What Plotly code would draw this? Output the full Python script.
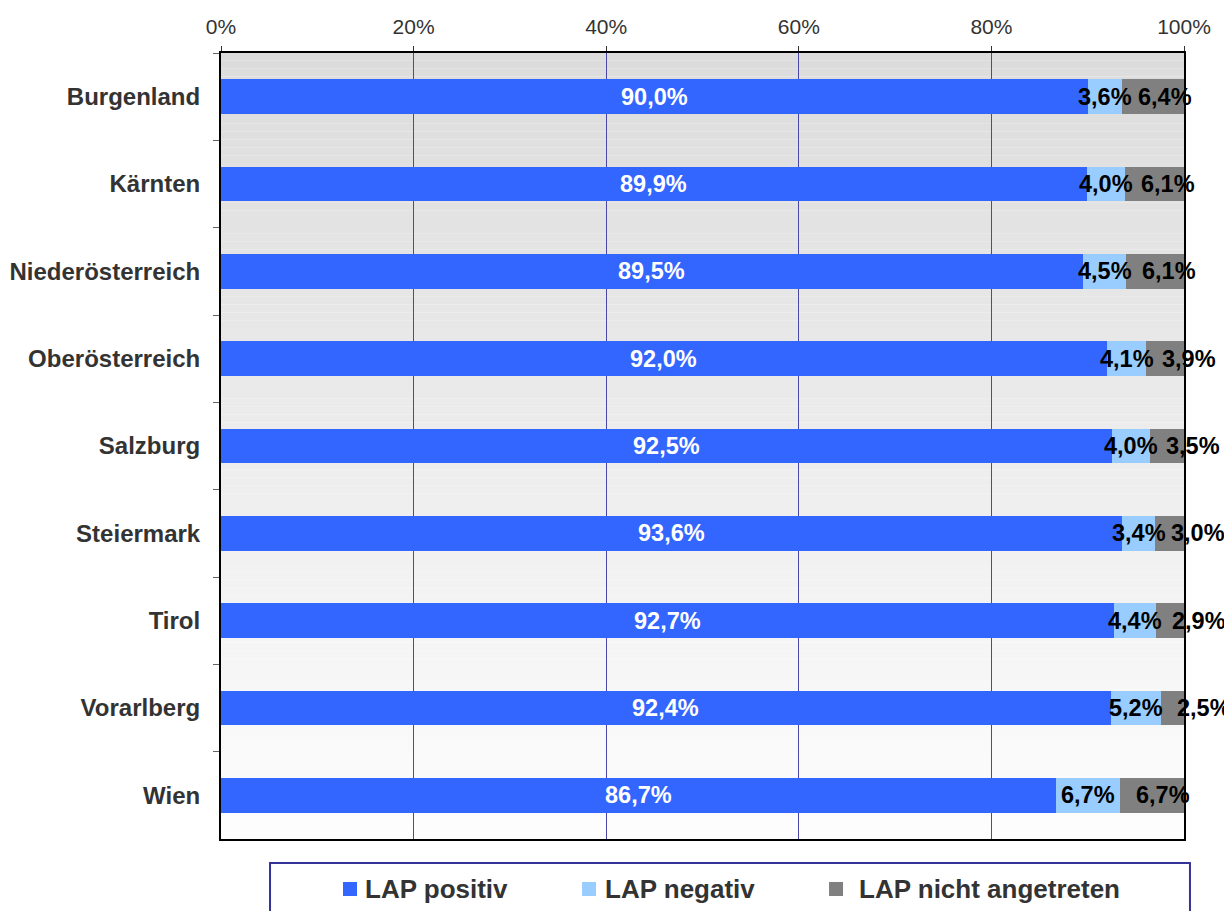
import plotly.graph_objects as go

categories = ["Burgenland", "Kärnten", "Niederösterreich", "Oberösterreich", "Salzburg",
              "Steiermark", "Tirol", "Vorarlberg", "Wien"]
lap_positiv = [90.0, 89.9, 89.5, 92.0, 92.5, 93.6, 92.7, 92.4, 86.7]
lap_negativ = [3.6, 4.0, 4.5, 4.1, 4.0, 3.4, 4.4, 5.2, 6.7]
lap_nicht = [6.4, 6.1, 6.1, 3.9, 3.5, 3.0, 2.9, 2.5, 6.7]
series_names = ["LAP positiv", "LAP negativ", "LAP nicht angetreten"]
tick_vals = [0, 20, 40, 60, 80, 100]
tick_text = ["0%", "20%", "40%", "60%", "80%", "100%"]

colors = ["#3366FF", "#99CCFF", "#808080"]
FONT = "Liberation Sans, Arial, sans-serif"


def fmt(v):
    return f"{v:.1f}".replace(".", ",") + "%"


fig = go.Figure()
for name, vals, col in zip(series_names, [lap_positiv, lap_negativ, lap_nicht], colors):
    fig.add_trace(go.Bar(
        y=categories, x=vals, name=name, orientation="h",
        marker=dict(color=col, line=dict(width=0)),
        hoverinfo="skip",
    ))

# data labels
for cat, p, n, g in zip(categories, lap_positiv, lap_negativ, lap_nicht):
    lab_font = dict(family=FONT, size=23.5, weight="bold")
    fig.add_annotation(x=p / 2, y=cat, xref="x", yref="y", text=fmt(p), showarrow=False,
                       xanchor="center", yanchor="middle", font=dict(lab_font, color="white"))
    fig.add_annotation(x=p + n / 2, y=cat, xref="x", yref="y", text=fmt(n), showarrow=False,
                       xanchor="center", yanchor="middle", font=dict(lab_font, color="black"))
    fig.add_annotation(x=p + n, y=cat, xref="x", yref="y", text=fmt(g), showarrow=False,
                       xanchor="left", yanchor="middle", xshift=14, font=dict(lab_font, color="black"))

# gradient background of plot area
n_bands = 100
for i in range(n_bands):
    t = i / (n_bands - 1)
    gv = int(round(220 + (253 - 220) * t))
    fig.add_shape(type="rect", xref="x domain", yref="y domain",
                  x0=0, x1=1, y0=1 - (i + 1) / n_bands, y1=1 - i / n_bands,
                  fillcolor=f"rgb({gv},{gv},{gv})", line=dict(width=0), layer="below")

# legend box
fig.add_shape(type="rect", xref="paper", yref="paper", x0=0.0509, x1=1.0062, y0=-0.2, y1=-0.0305,
              line=dict(color="#333399", width=2), fillcolor="rgba(0,0,0,0)")

# legend entries (swatch + label)
legend_marker_x = [0.1267, 0.3749, 0.6314]
legend_text_x = [0.1475, 0.3967, 0.6604]
for name, col, mx, tx in zip(series_names, colors, legend_marker_x, legend_text_x):
    fig.add_shape(type="rect", xref="paper", yref="paper", x0=mx, x1=mx + 0.01454,
                  y0=-0.0725, y1=-0.0547, fillcolor=col, line=dict(width=0))
    fig.add_annotation(x=tx, y=-0.0636, xref="paper", yref="paper", text=name, showarrow=False,
                       xanchor="left", yanchor="middle",
                       font=dict(family=FONT, size=26, color="#333333", weight="bold"))

fig.update_layout(
    width=1224, height=903,
    margin=dict(l=213, r=48, t=45, b=72, autoexpand=False),
    barmode="stack", bargap=0.6,
    paper_bgcolor="white", plot_bgcolor="white",
    font=dict(family=FONT, color="#333333"),
    showlegend=False,
    xaxis=dict(side="top", range=[0, 100], tickvals=tick_vals, ticktext=tick_text,
               showgrid=True, gridcolor="#4a4aa6", gridwidth=1,
               showline=True, linecolor="black", linewidth=2, mirror=True,
               ticks="outside", ticklen=5, tickcolor="#333333", ticklabelstandoff=4,
               tickfont=dict(family=FONT, size=21, color="#333333"), zeroline=False,
               automargin=False, fixedrange=True),
    yaxis=dict(autorange="reversed", showline=True, linecolor="black", linewidth=2, mirror=True,
               ticks="outside", ticklen=6, tickcolor="#666666", tickson="boundaries",
               tickfont=dict(family=FONT, size=24, color="#333333", weight="bold"),
               ticklabelstandoff=14, showgrid=False, automargin=False),
)

fig.write_html("out.html")
